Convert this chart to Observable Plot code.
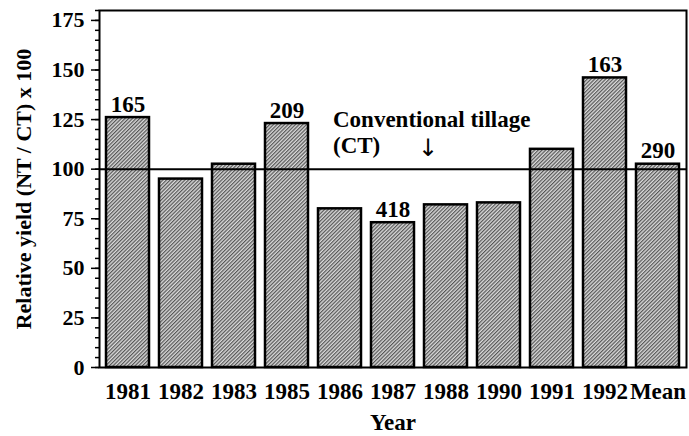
<!DOCTYPE html>
<html>
<head>
<meta charset="utf-8">
<script src="https://cdn.jsdelivr.net/npm/d3@7"></script>
<script src="https://cdn.jsdelivr.net/npm/@observablehq/plot@0.6"></script>
<style>
  body { margin: 0; background: #fff; }
</style>
</head>
<body>
<div id="chart"></div>
<script>
const years = ["1981", "1982", "1983", "1985", "1986", "1987", "1988", "1990", "1991", "1992", "Mean"];
const relativeYield = [126, 95, 102.5, 123, 80, 73, 82, 83, 110, 146, 102.5];
const barLabels = ["165", "", "", "209", "", "418", "", "", "", "163", "290"];
const majorTicks = [0, 25, 50, 75, 100, 125, 150, 175];
const minorTicks = d3.range(0, 181, 5);
const referenceValue = [100];

const data = years.map((y, i) => ({year: y, value: relativeYield[i], label: barLabels[i]}));
const labeled = data.filter(d => d.label !== "");

const chart = Plot.plot({
  width: 689,
  height: 436,
  marginLeft: 99,
  marginRight: 3,
  marginTop: 10,
  marginBottom: 69,
  style: {fontFamily: "'Liberation Serif', 'Times New Roman', serif", fontWeight: "bold", fontSize: "22px", color: "black", background: "white"},
  x: {domain: years, paddingInner: 0.18, paddingOuter: 0.075},
  y: {domain: [0, 180]},
  marks: [
    Plot.barY(data, {x: "year", y: "value", fill: "url(#hatch)", stroke: "black", strokeWidth: 2.5}),
    Plot.ruleY(referenceValue, {stroke: "black", strokeWidth: 2}),
    Plot.frame({stroke: "black", strokeWidth: 2}),
    Plot.axisY({ticks: minorTicks, tickSize: 4, tickFormat: () => "", label: null, strokeWidth: 1.5}),
    Plot.axisY({ticks: majorTicks, tickSize: 8, tickPadding: 7, strokeWidth: 1.5,
      label: "Relative yield (NT / CT) x 100", labelAnchor: "center", labelArrow: "none", labelOffset: 84}),
    Plot.axisX({tickSize: 0, tickPadding: 15, fontSize: 23, label: "Year", labelAnchor: "center", labelArrow: "none", labelOffset: 62}),
    Plot.text(labeled, {x: "year", y: "value", text: "label", lineAnchor: "bottom", dy: -6, fontSize: 23}),
    Plot.text(["Conventional tillage\n(CT)"], {x: () => "1986", y: () => 108.4, text: d => d, textAnchor: "start", lineAnchor: "bottom", dx: -7, lineHeight: 1.1, fontSize: 23}),
    Plot.text(["↓"], {x: () => "1988", y: () => 110.5, text: d => d, dx: -18, fontSize: 24, fontFamily: "'DejaVu Sans', sans-serif", fontWeight: "normal"})
  ]
});

const svg = d3.select(chart);
const defs = svg.insert("defs", ":first-child");
const pat = defs.append("pattern")
  .attr("id", "hatch")
  .attr("patternUnits", "userSpaceOnUse")
  .attr("width", 2.6)
  .attr("height", 2.6)
  .attr("patternTransform", "rotate(45)");
pat.append("rect").attr("width", 2.6).attr("height", 2.6).attr("fill", "#dadada");
pat.append("line").attr("x1", 0.65).attr("y1", 0).attr("x2", 0.65).attr("y2", 2.6).attr("stroke", "#3a3a3a").attr("stroke-width", 1.0);

document.getElementById("chart").appendChild(chart);
</script>
</body>
</html>
